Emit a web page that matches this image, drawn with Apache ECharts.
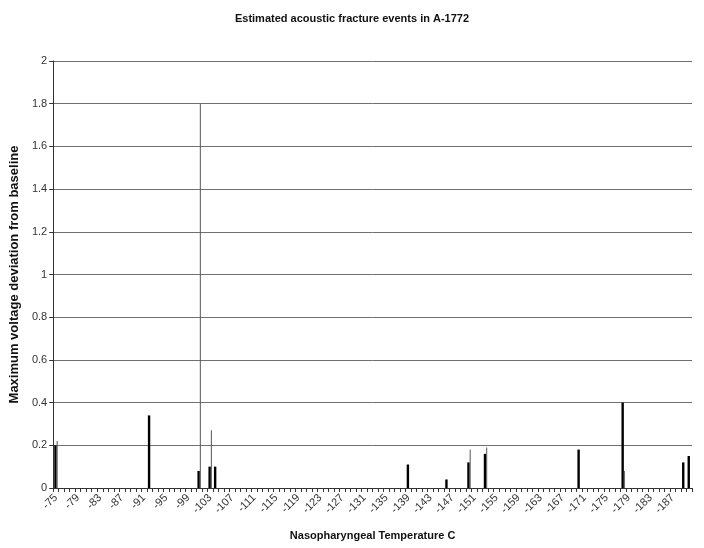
<!DOCTYPE html>
<html>
<head>
<meta charset="utf-8">
<script src="https://cdn.jsdelivr.net/npm/echarts@6/dist/echarts.min.js"></script>
<style>
  html, body { margin: 0; padding: 0; background: #ffffff; }
  #chart { width: 704px; height: 548px; }
</style>
</head>
<body>
<div id="chart"></div>
<script>
// Temperature categories (°C), one per degree from -75 down to -190
const temperatures = [];
for (let t = -75; t >= -190; t--) temperatures.push(t);

// Y axis range and step
const yMin = 0;
const yMax = 2;
const yStep = 0.2;

// Recorded events: [temperature, max voltage deviation]
const primaryEvents = [
  [-75, 0.2], [-92, 0.34], [-101, 0.08], [-103, 0.1], [-104, 0.1],
  [-139, 0.11], [-146, 0.04], [-150, 0.12], [-153, 0.16], [-170, 0.18],
  [-178, 0.4], [-189, 0.12], [-190, 0.15]
];
const secondaryEvents = [
  [-75, 0.22], [-101, 1.8], [-103, 0.27], [-150, 0.18], [-153, 0.19], [-178, 0.08]
];

function toSeries(events) {
  const data = temperatures.map(() => null);
  events.forEach(([t, v]) => {
    const i = temperatures.indexOf(t);
    if (i >= 0) data[i] = v;
  });
  return data;
}

const fontFamily = '"Liberation Sans", Arial, sans-serif';
const chart = echarts.init(document.getElementById('chart'), null, { renderer: 'canvas' });

chart.setOption({
  animation: false,
  backgroundColor: '#ffffff',
  title: {
    text: 'Estimated acoustic fracture events in A-1772',
    left: 'center',
    top: 8,
    textStyle: { fontFamily, fontSize: 11, fontWeight: 'bold', color: '#111' }
  },
  grid: { left: 51, right: 12, top: 61, bottom: 60, containLabel: false },
  xAxis: {
    type: 'category',
    data: temperatures,
    boundaryGap: true,
    name: 'Nasopharyngeal Temperature C',
    nameLocation: 'middle',
    nameGap: 42,
    nameTextStyle: { fontFamily, fontSize: 11, fontWeight: 'bold', color: '#111' },
    axisLine: { lineStyle: { color: '#333', width: 1 } },
    axisTick: { show: true, interval: 0, length: 4, lineStyle: { color: '#333' } },
    axisLabel: {
      interval: 3,
      rotate: 45,
      margin: 8,
      fontFamily, fontSize: 11, color: '#333'
    },
    splitLine: { show: false }
  },
  yAxis: {
    type: 'value',
    min: yMin,
    max: yMax,
    interval: yStep,
    name: 'Maximum voltage deviation from baseline',
    nameLocation: 'middle',
    nameGap: 24,
    nameTextStyle: { fontFamily, fontSize: 13, fontWeight: 'bold', color: '#111' },
    axisLine: { show: true, lineStyle: { color: '#333', width: 1 } },
    axisTick: { show: true, length: 4, lineStyle: { color: '#333' } },
    axisLabel: { fontFamily, fontSize: 11, color: '#333', margin: 6,
      formatter: v => String(Math.round(v * 10) / 10) },
    splitLine: { show: true, lineStyle: { color: '#707070', width: 1 } }
  },
  series: [
    {
      name: 'Primary',
      type: 'bar',
      data: toSeries(primaryEvents),
      barWidth: 2.4,
      barGap: '0%',
      itemStyle: { color: '#000000' }
    },
    {
      name: 'Secondary',
      type: 'bar',
      data: toSeries(secondaryEvents),
      barWidth: 1,
      barGap: '0%',
      itemStyle: { color: '#555555' }
    }
  ]
});
</script>
</body>
</html>
